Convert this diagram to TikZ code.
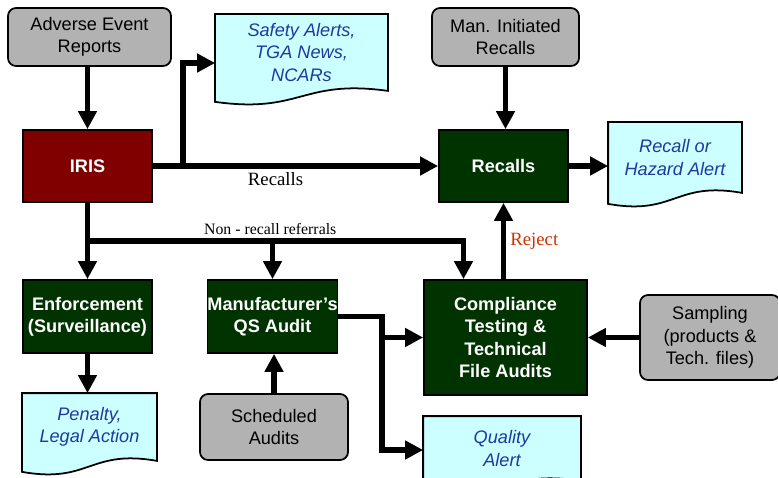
\documentclass[tikz,border=0pt]{standalone}
\usepackage{fontspec}
\setmainfont{Liberation Sans}
\newfontfamily\seriffont{Liberation Serif}
\usepackage{xcolor}
\usepackage{tikz}
\usetikzlibrary{arrows.meta,positioning,calc,backgrounds}

\definecolor{boxgray}{RGB}{178,178,178}
\definecolor{docfill}{RGB}{204,255,255}
\definecolor{doctext}{RGB}{32,56,160}
\definecolor{irisred}{RGB}{128,0,0}
\definecolor{actgreen}{RGB}{0,51,0}
\definecolor{rejectred}{RGB}{204,51,0}

\newcommand{\boxfont}{\fontsize{15.5}{19}\selectfont}

% document outline with a wavy bottom, drawn behind node #1
\newcommand{\docshape}[1]{%
  \filldraw[docline] (#1.south east) -- (#1.north east) -- (#1.north west)
    -- ($(#1.south west)+(0,11)$)
    .. controls ($(#1.south)+(0,23)$) and ($(#1.south)+(0,-12)$) .. (#1.south east) -- cycle;}

\begin{document}
\begin{tikzpicture}[x=0.03cm,y=-0.03cm,
  flow/.style={line width=5pt,-{Triangle[length=5.4mm,width=5.4mm]}},
  source/.style={draw,line width=1.5pt,fill=boxgray,rounded corners=0.24cm,
    align=center,inner sep=0pt,font=\boxfont},
  action/.style={draw,line width=1.5pt,fill=actgreen,text=white,
    align=center,inner sep=0pt,font=\boxfont\bfseries},
  output/.style={align=center,inner sep=0pt,outer sep=0.75pt,
    text=doctext,font=\boxfont\itshape},
  docline/.style={line width=1.5pt,fill=docfill},
  note/.style={font=\seriffont\fontsize{16}{19}\selectfont}]
  \useasboundingbox (0,0) rectangle (778,478);

  % inputs
  \node[source,minimum width=4.89cm,minimum height=1.74cm] (adverse) at (89.5,37) {Adverse Event\\Reports};
  \node[source,minimum width=4.41cm,minimum height=1.74cm] (manrecall) at (505.5,37) {Man. Initiated\\Recalls};
  \node[source,minimum width=4.2cm,minimum height=2.55cm] (sampling) at (710,337.5) {Sampling\\(products \&\\Tech. files)};
  \node[source,minimum width=4.44cm,minimum height=1.98cm] (scheduled) at (274,427) {Scheduled\\Audits};

  % processes
  \node[action,fill=irisred,minimum width=3.87cm,minimum height=2.16cm] (iris) at (87.5,166) {IRIS};
  \node[action,minimum width=3.87cm,minimum height=2.16cm] (recalls) at (503.5,166) {Recalls};
  \node[action,minimum width=3.87cm,minimum height=2.19cm] (enforce) at (87.5,316.5) {Enforcement\\(Surveillance)};
  \node[action,minimum width=3.87cm,minimum height=2.19cm] (qsaudit) at (272.5,316.5) {Manufacturer’s\\QS Audit};
  \node[action,minimum width=4.89cm,minimum height=3.45cm] (compliance) at (505.5,337.5) {Compliance\\Testing \&\\Technical\\File Audits};

  % outputs
  \node[output,minimum width=5.13cm,minimum height=2.25cm] (safety) at (301.5,52.5) {Safety Alerts,\\TGA News,\\NCARs};
  \node[output,minimum width=3.96cm,minimum height=2.07cm] (alert) at (675,157.5) {Recall or\\Hazard Alert};
  \node[output,minimum width=3.99cm,minimum height=1.98cm] (penalty) at (89.5,427) {Penalty,\\Legal Action};
  \node[output,minimum width=4.68cm,minimum height=1.89cm] (quality) at (502,448.5) {Quality\\Alert};

  \begin{scope}[on background layer]
    \docshape{safety}
    \docshape{alert}
    \docshape{penalty}
    \docshape{quality}
  \end{scope}

  % connectors
  \draw[flow] (adverse.south -| iris.north) -- (iris.north);
  \draw[flow] (iris.east) -- node[note,pos=0.43,below] (reclabel) {Recalls} (recalls.west);
  \coordinate (upfork) at (183,166);
  \draw[flow] (upfork) |- ($(safety.west)+(0,10.5)$);
  \draw[flow] (iris.south) -- (enforce.north);
  \coordinate (downfork) at (87.5,241);
  \draw[flow] (downfork) -| node[pos=0.243,above,font=\seriffont\fontsize{13.5}{16}\selectfont] (nrlabel) {Non - recall referrals}
    ($(compliance.north)+(-42,0)$);
  \draw[flow] (downfork -| qsaudit.north) -- (qsaudit.north);
  \draw[flow] (compliance.north -| recalls.south) -- node[note,right,text=rejectred] (rejlabel) {Reject} (recalls.south);
  \draw[flow] (manrecall.south) -- (manrecall.south |- recalls.north);
  \draw[flow] (recalls.east) -- (recalls.east -| alert.west);
  \draw[flow] (enforce.south) -- (enforce.south |- penalty.north);
  \draw[flow] (scheduled.north) -- (scheduled.north |- qsaudit.south);
  \coordinate (qsbend) at (382,316.5);
  \draw[flow] (qsaudit.east) -- (qsbend) |- ($(quality.west)+(0,1.5)$);
  \draw[flow] (qsbend |- compliance.west) -- (compliance.west);
  \draw[flow] (sampling.west) -- (compliance.east);
\end{tikzpicture}
\end{document}
